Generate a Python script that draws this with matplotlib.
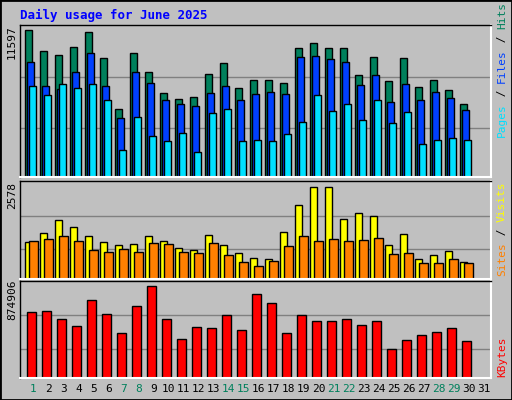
import matplotlib
matplotlib.use("Agg")
import matplotlib.pyplot as plt
from matplotlib.patches import Rectangle
import numpy as np

days = list(range(1, 32))
weekend = [1, 7, 8, 14, 15, 21, 22, 28, 29]
hits = [11597,9945,9630,10259,11440,9393,5379,9787,8291,6638,6166,6323,8134,9000,7032,7661,7661,7425,10180,10574,10180,10180,8055,9472,7583,9393,7110,7661,6874,5772]
files = [9078,7189,6953,8291,9787,7189,4670,8291,7425,6087,5772,5615,6638,7189,6087,6560,6717,6560,9472,9551,9314,9078,7268,8055,5930,7347,6087,6717,6245,5300]
pages = [7189,6481,7347,7032,7347,6087,2151,4749,3253,2860,3490,1994,5064,5379,2860,2939,2860,3411,4356,6481,5221,5772,4513,6087,4277,5143,2624,2939,3096,2939]
visits = [1042,1294,1657,1461,1210,1042,959,987,1210,1070,875,819,1238,959,735,596,568,1322,2075,2578,2578,1685,1852,1768,959,1266,568,679,791,484]
sites = [1070,1126,1210,1070,819,763,847,763,1014,987,763,735,1014,679,484,372,512,931,1210,1070,1126,1070,1098,1154,707,735,456,456,568,456]
kbytes = [625828,635407,568354,501301,740776,606670,434248,683302,874906,568354,376774,491722,482143,597091,462985,798250,712039,434248,597091,549196,549196,568354,510880,549196,280984,367195,415090,443827,482143,357616]

W, H = 512, 400
fig = plt.figure(figsize=(W/100, H/100), dpi=100)
fig.patch.set_facecolor('#C0C0C0')
fig.patches.append(Rectangle((0, 0), 1, 1, transform=fig.transFigure, fill=False, edgecolor='black', linewidth=2))
mono = 'DejaVu Sans Mono'

def mkax(top, bottom):
    ax = fig.add_axes([20/W, 1-bottom/H, 471/W, (bottom-top)/H])
    ax.set_facecolor('#C0C0C0')
    ax.set_xlim(0, 471/15)
    ax.set_xticks([]); ax.set_yticks([])
    for s in ax.spines.values():
        s.set_color('black'); s.set_linewidth(1)
    ax.spines['bottom'].set_color('white'); ax.spines['right'].set_color('white')
    ax.spines['bottom'].set_linewidth(1.5); ax.spines['right'].set_linewidth(1.5)
    return ax

n = len(hits)
x = np.arange(n)
ek = dict(edgecolor='black', linewidth=1, align='edge')

ax1 = mkax(25, 177)
ax1.set_ylim(0, 11975)
for g in (3892, 7910):
    ax1.axhline(g, color='#808080', linewidth=1, zorder=0)
ax1.bar(x+0.36, hits, 0.42, color='#00805C', **ek)
ax1.bar(x+0.49, files, 0.42, color='#0040FF', **ek)
ax1.bar(x+0.62, pages, 0.42, color='#00E0FF', **ek)

ax2 = mkax(181, 279)
ax2.set_ylim(0, 2737)
for g in (847, 1768):
    ax2.axhline(g, color='#808080', linewidth=1, zorder=0)
ax2.bar(x+0.36, visits, 0.42, color='#FFFF00', **ek)
ax2.bar(x+0.62, sites, 0.6, color='#FF8000', **ek)

ax3 = mkax(281, 378)
ax3.set_ylim(0, 926600)
for g in (280984, 597091):
    ax3.axhline(g, color='#808080', linewidth=1, zorder=0)
ax3.bar(x+0.44, kbytes, 0.64, color='#FF0000', **ek)

for d in days:
    fig.text((20 + (d-1)*15 + 13.5)/W, 1-389/H, str(d), ha='center', va='center',
             fontsize=8, family=mono, color='#00805C' if d in weekend else 'black')

fig.text(20/W, 1-15/H, 'Daily usage for June 2025', color='#0000FF', fontsize=9,
         fontweight='bold', family=mono, va='center', ha='left')
fig.text(12/W, 1-42/H, str(max(hits)), rotation=90, fontsize=8, family=mono, ha='center', va='center')
fig.text(12/W, 1-195/H, str(max(visits)), rotation=90, fontsize=8, family=mono, ha='center', va='center')
fig.text(12/W, 1-300/H, str(max(kbytes)), rotation=90, fontsize=8, family=mono, ha='center', va='center')

def rlabel(parts, ybot):
    fig.canvas.draw()
    r = fig.canvas.get_renderer()
    y = ybot
    for txt, col in parts:
        t = fig.text(502/W, 1-y/H, txt, rotation=90, fontsize=8, family=mono, color=col, ha='center', va='bottom')
        bb = t.get_window_extent(renderer=r)
        y -= bb.height
rlabel([('Pages', '#00E0FF'), (' / ', 'black'), ('Files', '#0040FF'), (' / ', 'black'), ('Hits', '#00805C')], 137)
rlabel([('Sites', '#FF8000'), (' / ', 'black'), ('Visits', '#FFFF00')], 276)
rlabel([('KBytes', '#FF0000')], 377)

fig.savefig('out.png', dpi=100, facecolor=fig.get_facecolor())
